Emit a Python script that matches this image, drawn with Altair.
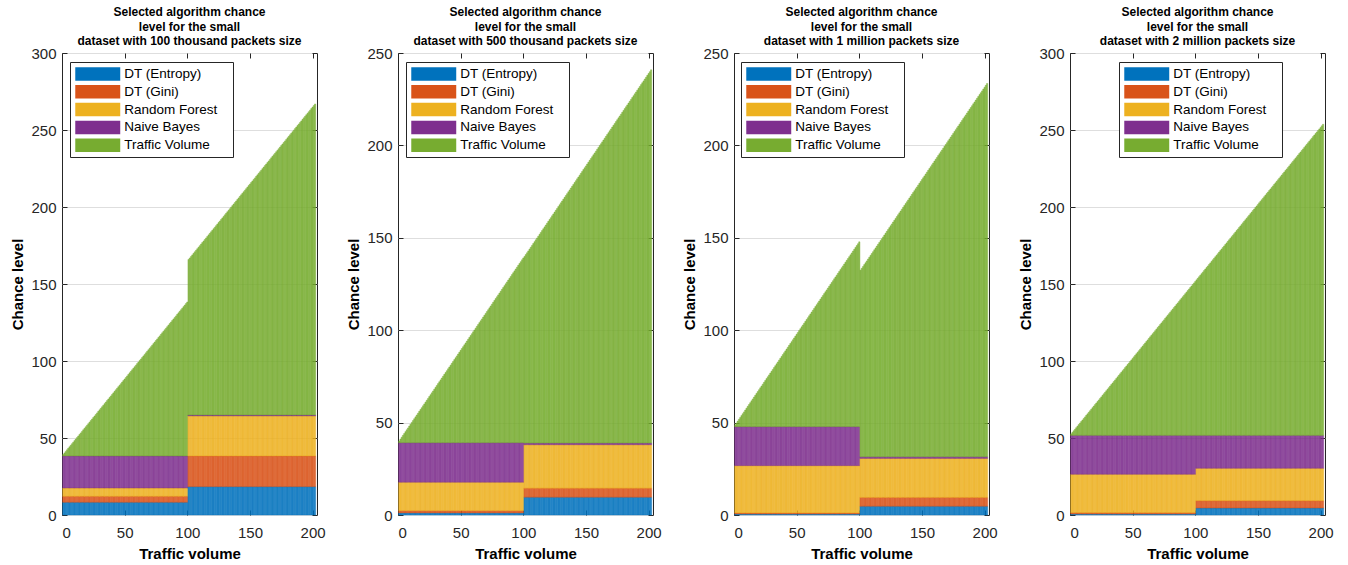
import altair as alt
import pandas as pd

# ---------------- data ----------------
series_names = ["DT (Entropy)", "DT (Gini)", "Random Forest", "Naive Bayes", "Traffic Volume"]
series_colors = ["#0072BD", "#D95319", "#EDB120", "#7E2F8E", "#77AC30"]

# bar positions; the "Traffic Volume" bar height equals the traffic volume itself
traffic_volume = list(range(1, 203))
split_after = 100  # levels change after traffic volume 100

panel_titles = [
    ["Selected algorithm chance", "level for the small", "dataset with 100 thousand packets size"],
    ["Selected algorithm chance", "level for the small", "dataset with 500 thousand packets size"],
    ["Selected algorithm chance", "level for the small", "dataset with 1 million  packets size"],
    ["Selected algorithm chance", "level for the small", "dataset with 2 million  packets size"],
]
y_max = [300, 250, 250, 300]
legend_x = [8, 8, 7, 49]

# chance levels: [volume 1-100, volume 101-202]
p1_entropy = [8.2, 18.4]
p1_gini = [3.9, 19.9]
p1_rf = [5.4, 26.0]
p1_nb = [20.8, 0.6]

p2_entropy = [1.1, 9.6]
p2_gini = [1.2, 4.9]
p2_rf = [15.4, 23.5]
p2_nb = [21.4, 0.9]

p3_entropy = [0.5, 4.7]
p3_gini = [0.6, 4.8]
p3_rf = [25.6, 21.1]
p3_nb = [21.1, 0.9]

p4_entropy = [0.6, 4.5]
p4_gini = [0.9, 4.8]
p4_rf = [24.9, 21.0]
p4_nb = [25.3, 21.4]

panel_levels = [
    [p1_entropy, p1_gini, p1_rf, p1_nb],
    [p2_entropy, p2_gini, p2_rf, p2_nb],
    [p3_entropy, p3_gini, p3_rf, p3_nb],
    [p4_entropy, p4_gini, p4_rf, p4_nb],
]

FONT = "Liberation Sans"
AX = "#262626"
BLANK = "\u2800"  # blank (non-whitespace) glyph used to widen the legend box


def panel_frame(levels):
    rows = []
    for v in traffic_volume:
        seg = 0 if v <= split_after else 1
        for k in range(4):
            rows.append({"volume": v, "series": series_names[k], "order": k, "value": levels[k][seg]})
        rows.append({"volume": v, "series": series_names[4], "order": 4, "value": v})
    return pd.DataFrame(rows)


def tick_only(orient, values):
    return alt.Axis(orient=orient, offset=-5, labels=False, domain=False, grid=False,
                    ticks=True, tickSize=5, tickColor=AX, tickWidth=1, title=None,
                    values=values, minExtent=0, maxExtent=0)


def panel(i):
    df = panel_frame(panel_levels[i])
    xs = alt.Scale(domain=[0, 203.5], nice=False, zero=False)
    ys = alt.Scale(domain=[0, y_max[i]], nice=False)
    xvals = [0, 50, 100, 150, 200]
    yvals = list(range(0, y_max[i] + 1, 50))
    cscale_fill = alt.Scale(domain=series_names, range=series_colors)
    cscale_stroke = alt.Scale(domain=series_names, range=series_colors)

    bars = alt.Chart(df).transform_stack(
        stack="value", groupby=["volume"], as_=["y0", "y1"],
        sort=[alt.SortField(field="order", order="ascending")]
    ).transform_calculate(
        x0="datum.volume - 0.5", x1="datum.volume + 0.5"
    ).mark_rect(fillOpacity=0.8, strokeWidth=0.4).encode(
        x=alt.X("x0:Q", scale=xs, axis=alt.Axis(values=xvals, title="Traffic volume", ticks=False,
                                                  tickSize=0, grid=False, domain=False,
                                                  labelPadding=10, titlePadding=6)),
        x2="x1:Q",
        y=alt.Y("y0:Q", scale=ys, axis=alt.Axis(values=yvals, title="Chance level", ticks=False,
                                                  tickSize=0, grid=True, gridColor="#DEDEDE",
                                                  domain=False, labelPadding=6, titlePadding=5)),
        y2="y1:Q",
        fill=alt.Fill("series:N", scale=cscale_fill, legend=alt.Legend(
            orient="none", legendX=legend_x[i], legendY=9, title=None,
            symbolType="M-3.333,-1H3.333V1H-3.333Z", symbolSize=182,
            symbolStrokeWidth=0, symbolOpacity=1, symbolOffset=15.75,
            labelOffset=19.5, labelFontSize=13.5, labelFont=FONT, labelColor="black",
            rowPadding=3.8, padding=5, fillColor="white", strokeColor=AX,
            labelExpr="datum.label + '" + BLANK + "'")),
        stroke=alt.Stroke("series:N", scale=cscale_stroke, legend=None),
    )

    t1 = alt.Chart(df).mark_point(opacity=0, size=0).encode(
        x=alt.X("volume:Q", scale=xs, axis=tick_only("bottom", xvals)),
        y=alt.Y("value:Q", scale=ys, axis=tick_only("left", yvals)),
    )
    t2 = alt.Chart(df).mark_point(opacity=0, size=0).encode(
        x=alt.X("volume:Q", scale=xs, axis=tick_only("top", xvals)),
        y=alt.Y("value:Q", scale=ys, axis=tick_only("right", yvals)),
    )

    return alt.layer(bars, t1, t2).resolve_axis(x="independent", y="independent").properties(
        width=255, height=462,
        title=alt.Title(text=panel_titles[i], fontSize=12, fontWeight="bold", font=FONT,
                        anchor="middle", color="black", lineHeight=14.3, offset=-2),
    )


chart = alt.hconcat(*[panel(i) for i in range(4)], spacing=81, bounds="flush").resolve_scale(
    fill="independent", stroke="independent"
).resolve_legend(fill="independent").configure_view(
    stroke=AX, strokeWidth=1
).configure_axis(
    labelFont=FONT, labelFontSize=15, labelColor=AX,
    titleFont=FONT, titleFontSize=15, titleFontWeight="bold", titleColor="black",
).properties(
    padding={"left": 10, "top": 5, "right": 5, "bottom": 5},
    background="white",
)

chart.save("out.html", embed_options={"renderer": "svg", "actions": False})
